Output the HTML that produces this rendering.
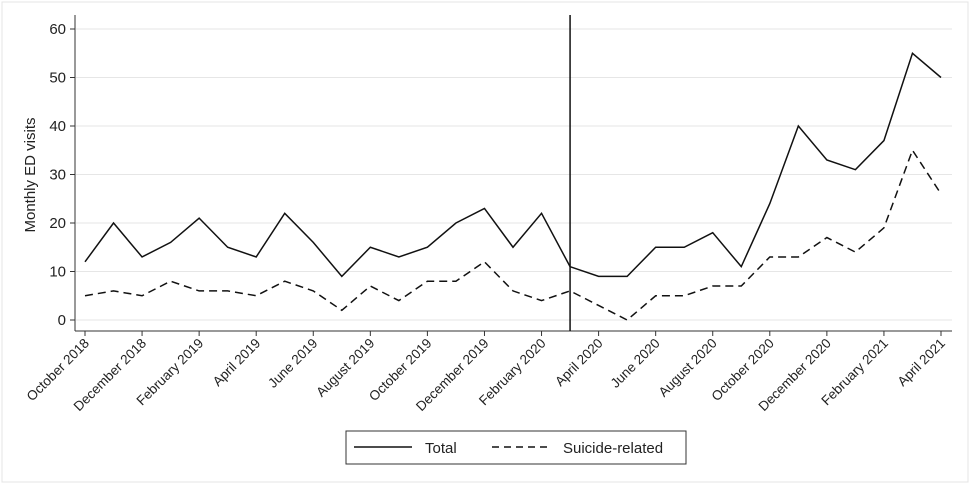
<!DOCTYPE html>
<html><head><meta charset="utf-8"><style>
body{margin:0;background:#fff;font-family:"Liberation Sans",sans-serif}
svg{display:block}
</style></head><body>
<svg id="chart" width="971" height="485">
<rect x="2" y="2" width="966" height="480" fill="#fff" stroke="#e4e4e4"/>
<g id="grid"></g><g id="axes"></g><g id="series"></g>
<text transform="translate(35,175) rotate(-90)" text-anchor="middle" font-size="15" fill="#222">Monthly ED visits</text>
<g>
<rect x="346" y="431" width="340" height="33" fill="#fff" stroke="#333"/>
<line x1="354" y1="447" x2="412" y2="447" stroke="#111" stroke-width="1.5"/>
<text x="425" y="453" font-size="15" fill="#222">Total</text>
<line x1="492" y1="447" x2="550" y2="447" stroke="#111" stroke-width="1.5" stroke-dasharray="7,5"/>
<text x="563" y="453" font-size="15" fill="#222">Suicide-related</text>
</g>
</svg>
<script>
const months=["October 2018","November 2018","December 2018","January 2019","February 2019","March 2019","April 2019","May 2019","June 2019","July 2019","August 2019","September 2019","October 2019","November 2019","December 2019","January 2020","February 2020","March 2020","April 2020","May 2020","June 2020","July 2020","August 2020","September 2020","October 2020","November 2020","December 2020","January 2021","February 2021","March 2021","April 2021"];
const totalVisits=[12,20,13,16,21,15,13,22,16,9,15,13,15,20,23,15,22,11,9,9,15,15,18,11,24,40,33,31,37,55,50];
const suicideVisits=[5,6,5,8,6,6,5,8,6,2,7,4,8,8,12,6,4,6,3,0,5,5,7,7,13,13,17,14,19,35,26];
const yTicks=[0,10,20,30,40,50,60];
const interventionMonth="March 2020";
const NS="http://www.w3.org/2000/svg";
const x=i=>85+i*(856/(months.length-1));
const y=v=>320-v*(291/60);
function mk(t,a,p){const e=document.createElementNS(NS,t);for(const k in a)e.setAttribute(k,a[k]);p.appendChild(e);return e;}
const grid=document.getElementById('grid'),axes=document.getElementById('axes'),ser=document.getElementById('series');
yTicks.forEach(v=>{
 const g=mk('line',{x1:76,x2:952,y1:y(v),y2:y(v),stroke:'#e6e6e6'},grid);
 
 
 mk('line',{x1:70,x2:75,y1:y(v),y2:y(v),stroke:'#333'},axes);
 const t=mk('text',{x:66,y:y(v)+5,'text-anchor':'end','font-size':15,fill:'#222'},axes);t.textContent=v;
 
 
});
const ya=mk('line',{x1:75,x2:75,y1:15,y2:331,stroke:'#333'},axes);


const xa=mk('line',{x1:75,x2:952,y1:331,y2:331,stroke:'#333'},axes);


months.forEach((m,i)=>{
 if(i%2)return;
 mk('line',{x1:x(i),x2:x(i),y1:331,y2:336,stroke:'#333'},axes);
 const t=mk('text',{transform:`translate(${x(i)+5},${344}) rotate(-45)`,'text-anchor':'end','font-size':13.5,fill:'#222'},axes);
 t.textContent=m;
 
 
});
const vi=months.indexOf(interventionMonth);
const vl=mk('line',{x1:x(vi),x2:x(vi),y1:15,y2:331,stroke:'#111','stroke-width':1.5},ser);


const p1=mk('polyline',{points:totalVisits.map((v,i)=>x(i)+','+y(v)).join(' '),fill:'none',stroke:'#111','stroke-width':1.5},ser);


const p2=mk('polyline',{points:suicideVisits.map((v,i)=>x(i)+','+y(v)).join(' '),fill:'none',stroke:'#111','stroke-width':1.5,'stroke-dasharray':'8,5'},ser);


</script>
</body></html>
